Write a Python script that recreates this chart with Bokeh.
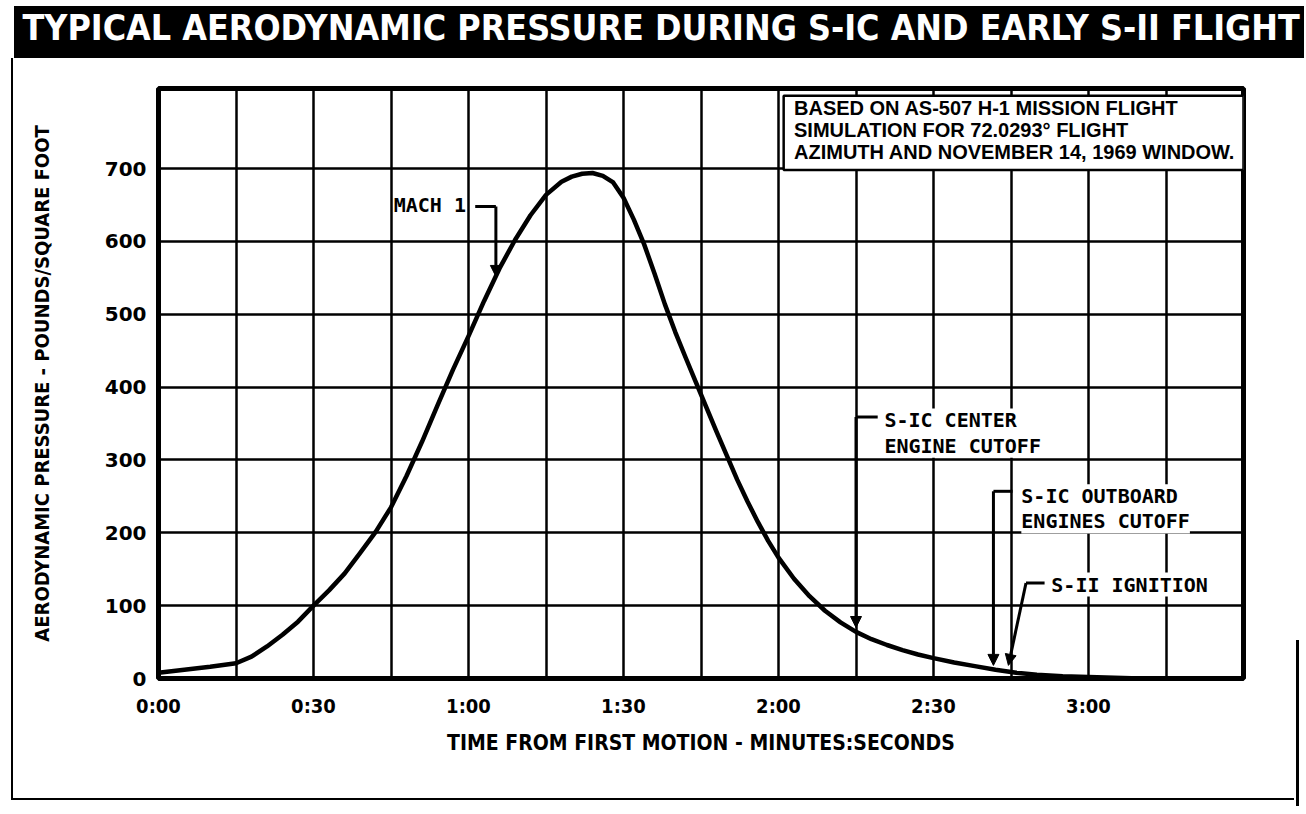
from bokeh.plotting import figure
from bokeh.models import FixedTicker, Label, Arrow, NormalHead, Range1d
from bokeh.embed import file_html
from bokeh.resources import INLINE
from bokeh.core.properties import value

# ---------------- data ----------------
title_text = "TYPICAL AERODYNAMIC PRESSURE DURING S-IC AND EARLY S-II FLIGHT"
x_axis_title = "TIME FROM FIRST MOTION - MINUTES:SECONDS"
y_axis_title = "AERODYNAMIC PRESSURE - POUNDS/SQUARE FOOT"

time_s = [0, 5, 10, 15, 18, 21, 24, 27, 30, 33, 36, 39, 42, 45, 48, 51, 54, 57,
          60, 63, 66, 69, 72, 75, 78, 80, 82, 84, 86, 88, 90, 92, 94, 96, 98,
          100, 102, 104, 106, 108, 110, 112, 114, 116, 118, 120, 123, 126, 129,
          132, 135, 138, 141, 144, 147, 150, 154, 158, 162, 166, 170, 175, 180,
          185, 190, 195]
pressure_psf = [8, 12, 16, 21, 30, 44, 60, 78, 100, 121, 144, 172, 201, 235,
                278, 325, 375, 424, 470, 518, 563, 602, 636, 664, 682, 689, 693,
                694, 690, 681, 660, 630, 596, 556, 514, 476, 441, 407, 373, 339,
                306, 273, 243, 215, 189, 166, 137, 113, 93, 77, 64, 54, 46, 39,
                33, 28, 22, 17, 12, 8, 5, 3, 2, 1, 0, 0]

x_ticks_s = [0, 30, 60, 90, 120, 150, 180]
x_tick_labels = ["0:00", "0:30", "1:00", "1:30", "2:00", "2:30", "3:00"]
x_grid_s = [0, 15, 30, 45, 60, 75, 90, 105, 120, 135, 150, 165, 180, 195, 210]
y_ticks = [0, 100, 200, 300, 400, 500, 600, 700]

event_labels = ["MACH 1", "S-IC CENTER\nENGINE CUTOFF",
                "S-IC OUTBOARD\nENGINES CUTOFF", "S-II IGNITION"]
event_times_s = [65.3, 135, 161.6, 164.5]

note_lines = ["BASED ON AS-507 H-1 MISSION FLIGHT",
              "SIMULATION FOR 72.0293\u00b0 FLIGHT",
              "AZIMUTH AND NOVEMBER 14, 1969 WINDOW."]

# ---------------- styling ----------------
COND = "DejaVu Sans Condensed"
MONO = "DejaVu Sans Mono"
W, H = 1304, 806
FRAME_L, FRAME_R, FRAME_T, FRAME_B = 158, 1243, 88, 678

bar = "linear-gradient(#000,#000)"
page_bg = ", ".join([
    bar + " 14px 6px / 100% 52px no-repeat",      # title banner
    bar + " 11px 58px / 2px 742px no-repeat",     # outer frame, left
    bar + " 11px 798px / 1283px 2px no-repeat",   # outer frame, bottom
    bar + " 1296px 640px / 3px 170px no-repeat",  # outer frame, right
    "#ffffff",
])

p = figure(width=W, height=H, x_range=Range1d(0, 210), y_range=Range1d(0, 810),
           toolbar_location=None, output_backend="svg",
           min_border_left=FRAME_L, min_border_right=W - FRAME_R,
           min_border_top=FRAME_T, min_border_bottom=H - FRAME_B,
           background_fill_color="white", border_fill_alpha=0,
           outline_line_color="black", outline_line_width=5,
           styles={"background": page_bg})

# title (empty second line lifts the text into the banner)
p.title.text = title_text + "\n "
p.title.text_color = "white"
p.title.text_font = COND
p.title.text_font_style = "bold"
p.title.text_font_size = "35.5px"
p.title.align = "left"
p.title.offset = 22 - FRAME_L
p.title.standoff = 0

p.xaxis.ticker = FixedTicker(ticks=x_ticks_s)
p.xaxis.major_label_overrides = dict(zip(x_ticks_s, x_tick_labels))
p.yaxis.ticker = FixedTicker(ticks=y_ticks)
p.xgrid.ticker = FixedTicker(ticks=x_grid_s)
p.ygrid.ticker = FixedTicker(ticks=y_ticks)
for g in (p.xgrid, p.ygrid):
    g.grid_line_color = "black"
    g.grid_line_width = 2.5
    g.grid_line_alpha = 1.0

for ax in (p.xaxis, p.yaxis):
    ax.axis_line_color = None
    ax.major_tick_line_color = None
    ax.minor_tick_line_color = None
    ax.major_label_text_color = "black"
    ax.major_label_text_font_style = "bold"
    ax.major_label_text_font_size = "20px"
    ax.axis_label_text_color = "black"
    ax.axis_label_text_font = COND
    ax.axis_label_text_font_style = "bold"

p.xaxis.major_label_text_font = COND
p.yaxis.major_label_text_font = "DejaVu Sans"
p.xaxis.major_label_standoff = 9
p.yaxis.major_label_standoff = 6
p.xaxis.axis_label = x_axis_title
p.yaxis.axis_label = y_axis_title
p.xaxis.axis_label_text_font_size = "21px"
p.yaxis.axis_label_text_font_size = "20px"
p.xaxis.axis_label_standoff = 10
p.yaxis.axis_label_standoff = 48

# pressure curve
p.line(time_s, pressure_psf, line_width=4.5, color="black",
       line_join="round", line_cap="round")

# note box
p.quad(left=121.0, right=210, top=800, bottom=698, fill_color="white",
       line_color="black", line_width=2.5)
p.text(x=[123.0] * 3, y=[783, 753, 723], text=note_lines,
       text_font=value("Liberation Sans"), text_font_style="bold",
       text_font_size="20px", text_baseline="middle", text_color="black")

# event leaders
LW = 3
def head():
    return NormalHead(size=11, fill_color="black", line_color="black", line_width=1)

t_m1, t_ceco, t_oeco, t_s2 = event_times_s

# MACH 1
p.line([61.3, t_m1], [648, 648], line_width=LW, color="black")
p.add_layout(Arrow(end=head(), x_start=t_m1, y_start=648, x_end=t_m1, y_end=552,
                   line_width=LW, line_color="black"))
# S-IC center engine cutoff
p.line([t_ceco, 139.2], [359, 359], line_width=LW, color="black")
p.add_layout(Arrow(end=head(), x_start=t_ceco, y_start=359, x_end=t_ceco, y_end=70,
                   line_width=LW, line_color="black"))
# S-IC outboard engines cutoff
p.line([t_oeco, 165.3], [257, 257], line_width=LW, color="black")
p.add_layout(Arrow(end=head(), x_start=t_oeco, y_start=257, x_end=t_oeco, y_end=18,
                   line_width=LW, line_color="black"))
# S-II ignition
p.line([167.9, 171.5], [131, 131], line_width=LW, color="black")
p.add_layout(Arrow(end=head(), x_start=167.9, y_start=131, x_end=t_s2, y_end=18,
                   line_width=LW, line_color="black"))

lab_kw = dict(text_font=MONO, text_font_style="bold", text_font_size="20px",
              text_color="black", background_fill_color="white",
              text_line_height=1.05)
p.add_layout(Label(x=59.5, y=650, text=event_labels[0], text_align="right",
                   text_baseline="middle", **lab_kw))
p.add_layout(Label(x=140.5, y=337, text=event_labels[1], text_align="left",
                   text_baseline="middle", **lab_kw))
p.add_layout(Label(x=167.0, y=233, text=event_labels[2], text_align="left",
                   text_baseline="middle", **lab_kw))
p.add_layout(Label(x=172.8, y=129, text=event_labels[3], text_align="left",
                   text_baseline="middle", **lab_kw))

open("out.html", "w").write(file_html(p, INLINE))
